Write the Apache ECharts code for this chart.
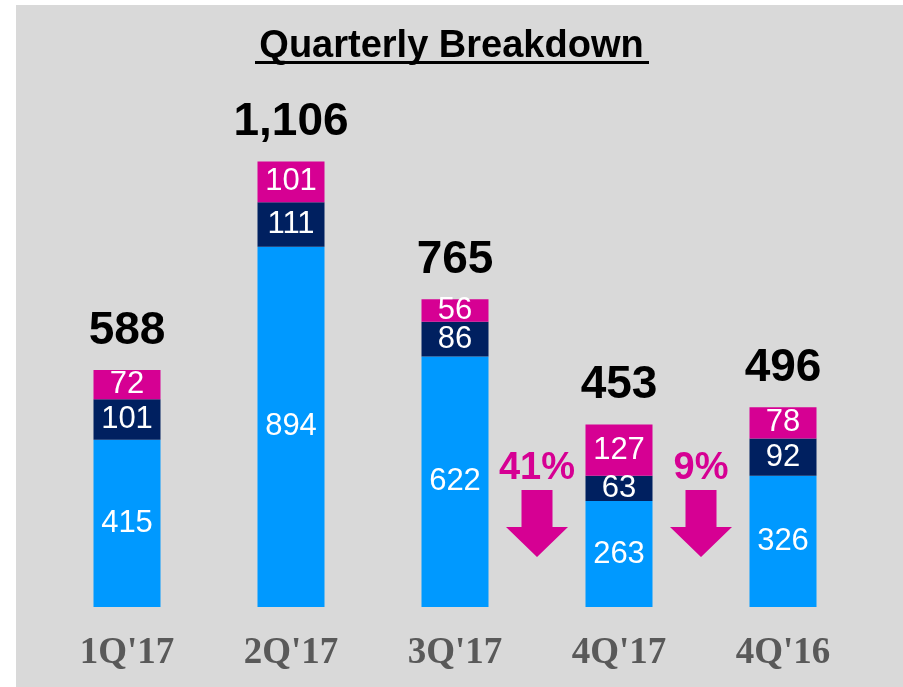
<!DOCTYPE html>
<html>
<head>
<meta charset="utf-8">
<title>Quarterly Breakdown</title>
<script src="https://cdn.jsdelivr.net/npm/echarts@6/dist/echarts.min.js"></script>
<style>
  html, body { margin: 0; padding: 0; background: #fff; }
  #chart { width: 903px; height: 687px; }
</style>
</head>
<body>
<div id="chart"></div>
<script>
// data
var quarters = ['1Q\'17', '2Q\'17', '3Q\'17', '4Q\'17', '4Q\'16']
var baseVals = [415, 894, 622, 263, 326]   // light blue
var midVals = [101, 111, 86, 63, 92]       // navy
var topVals = [72, 101, 56, 127, 78]       // magenta
var totals = [588, 1106, 765, 453, 496]
// declines shown with arrows: [from index, to index, text]
var changes = [[2, 3, '41%'], [3, 4, '9%']]

var BLUE = '#0099ff'
var NAVY = '#002060'
var PINK = '#d60093'

var chart = echarts.init(document.getElementById('chart'))

function segLabel () {
  return {
    show: true,
    position: 'inside',
    color: '#fff',
    fontFamily: 'Arial, "Liberation Sans", sans-serif',
    fontSize: 31
  }
}

chart.setOption({
  backgroundColor: '#fff',
  animation: false,
  title: {
    text: 'Quarterly Breakdown',
    left: 'center',
    top: 28,
    padding: 0,
    textStyle: {
      fontFamily: 'Arial, "Liberation Sans", sans-serif',
      fontWeight: 'bold',
      fontSize: 38,
      color: '#000'
    }
  },
  grid: {
    left: 45,
    right: 38,
    top: 43,
    bottom: 80
  },
  xAxis: {
    type: 'category',
    data: quarters,
    axisLine: { show: false },
    axisTick: { show: false },
    axisLabel: {
      margin: 28,
      color: '#595959',
      fontFamily: '"Liberation Serif", "Times New Roman", serif',
      fontWeight: 'bold',
      fontSize: 37
    }
  },
  yAxis: {
    type: 'value',
    min: 0,
    max: 1400,
    show: false,
    splitLine: { show: false }
  },
  series: [
    {
      // invisible bar carrying the total labels
      name: 'Total',
      type: 'bar',
      barWidth: 67,
      barGap: '-100%',
      data: totals,
      itemStyle: { color: 'rgba(0,0,0,0)' },
      label: {
        show: true,
        position: 'top',
        distance: 16,
        color: '#000',
        fontFamily: 'Arial, "Liberation Sans", sans-serif',
        fontWeight: 'bold',
        fontSize: 46,
        formatter: function (p) {
          return p.value.toLocaleString('en-US')
        }
      },
      z: 1
    },
    {
      name: 'Base',
      type: 'bar',
      stack: 'q',
      barWidth: 67,
      data: baseVals,
      itemStyle: { color: BLUE },
      label: segLabel()
    },
    {
      name: 'Mid',
      type: 'bar',
      stack: 'q',
      data: midVals,
      itemStyle: { color: NAVY },
      label: segLabel()
    },
    {
      name: 'Top',
      type: 'bar',
      stack: 'q',
      data: topVals,
      itemStyle: { color: PINK },
      label: segLabel()
    }
  ]
})

// grey panel, title underline and the decline arrows
var graphics = [
  {
    type: 'rect',
    z: -10,
    silent: true,
    shape: { x: 16, y: 5, width: 903 - 16, height: 687 - 5 },
    style: { fill: '#d9d9d9' }
  },
  {
    type: 'rect',
    shape: { x: 255, y: 61, width: 394, height: 3 },
    style: { fill: '#000' }
  }
]

changes.forEach(function (c) {
  var x1 = chart.convertToPixel({ xAxisIndex: 0 }, quarters[c[0]])
  var x2 = chart.convertToPixel({ xAxisIndex: 0 }, quarters[c[1]])
  var cx = (x1 + x2) / 2
  graphics.push({
    type: 'text',
    x: cx,
    y: 469,
    style: {
      text: c[2],
      align: 'center',
      verticalAlign: 'middle',
      fill: PINK,
      font: 'bold 38px Arial, "Liberation Sans", sans-serif'
    }
  })
  graphics.push({
    type: 'polygon',
    shape: {
      points: [
        [cx - 15.5, 490], [cx + 15.5, 490], [cx + 15.5, 527], [cx + 31, 527],
        [cx, 557], [cx - 31, 527], [cx - 15.5, 527]
      ]
    },
    style: { fill: PINK }
  })
})

chart.setOption({ graphic: graphics })
</script>
</body>
</html>
